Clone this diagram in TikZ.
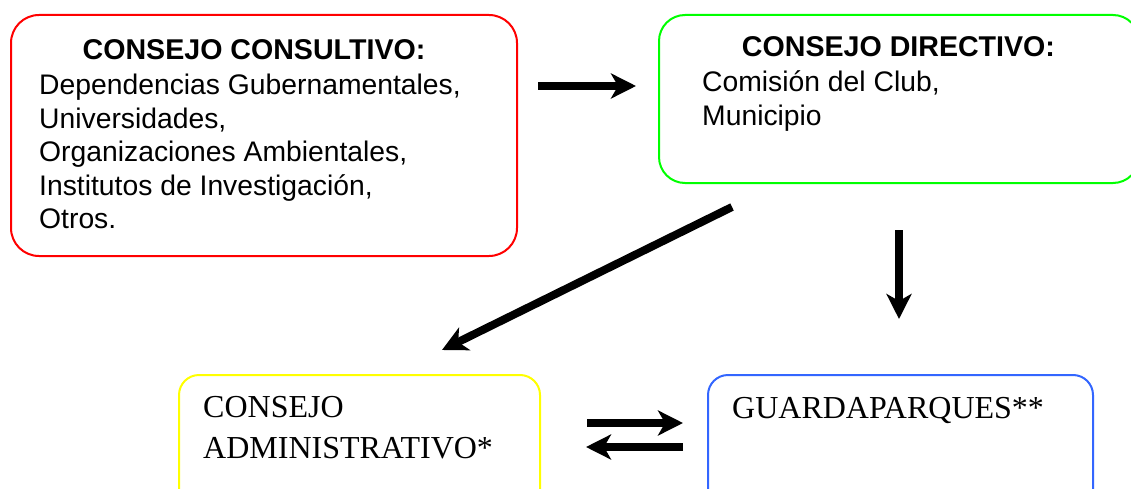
\documentclass[tikz,border=0pt]{standalone}
\usepackage{fontspec}
\setmainfont{Liberation Serif}
\setsansfont{Liberation Sans}
\usetikzlibrary{arrows.meta}
\definecolor{boxred}{RGB}{255,0,0}
\definecolor{boxgreen}{RGB}{0,255,0}
\definecolor{boxyellow}{RGB}{255,255,0}
\definecolor{boxblue}{RGB}{51,102,255}
\begin{document}
\begin{tikzpicture}[x=1pt,y=-1pt,
  box/.style={draw, line width=2pt, inner sep=0pt, anchor=north west},
  ttl/.style={font=\sffamily\bfseries\fontsize{28.6}{33}\selectfont, inner sep=0pt, anchor=base},
  bod/.style={font=\sffamily\fontsize{28.3}{33}\selectfont, inner sep=0pt, anchor=base west},
  ser/.style={font=\rmfamily\fontsize{32}{40}\selectfont, inner sep=0pt, anchor=base west},
  fat/.style={line width=8pt, -{Stealth[length=25pt,width=25pt,inset=7pt]}}]
\useasboundingbox (0,0) rectangle (1131,489);
\clip (0,0) rectangle (1131,489);
% boxes
\node[box, draw=boxred, rounded corners=28pt, minimum width=506pt, minimum height=241pt] (consultivo) at (10,14) {};
\node[box, draw=boxgreen, rounded corners=26pt, minimum width=480pt, minimum height=168pt] (directivo) at (658,14) {};
\node[box, draw=boxyellow, rounded corners=20pt, minimum width=361pt, minimum height=140pt] (administrativo) at (178,374) {};
\node[box, draw=boxblue, rounded corners=20pt, minimum width=385pt, minimum height=140pt] (guarda) at (707,374) {};
% texts
\node[ttl] (t1) at (254,60) {CONSEJO CONSULTIVO:};
\node[bod] (c1) at (39,95) {Dependencias Gubernamentales,};
\node[bod] (c2) at (39,128.3) {Universidades,};
\node[bod] (c3) at (39,161.6) {Organizaciones Ambientales,};
\node[bod] (c4) at (39,195) {Institutos de Investigación,};
\node[bod] (c5) at (39,228.3) {Otros.};
\node[ttl] (t2) at (898.5,57) {CONSEJO DIRECTIVO:};
\node[bod] (d1) at (702,92) {Comisión del Club,};
\node[bod] (d2) at (702,125.3) {Municipio};
\node[ser] (a1) at (203,417) {CONSEJO};
\node[ser] (a2) at (203,458) {ADMINISTRATIVO*};
\node[ser] (g1) at (732,418) {GUARDAPARQUES**};
% arrow ends
\coordinate (p1s) at (538,86);
\coordinate (p1e) at (636,86);
\coordinate (p2s) at (732,207);
\coordinate (p2e) at (442,350);
\coordinate (p3s) at (899,230);
\coordinate (p3e) at (899,319);
\coordinate (p4s) at (587,423);
\coordinate (p4e) at (683,423);
\coordinate (p5s) at (683,447);
\coordinate (p5e) at (586,447);
\draw[fat] (p1s) -- (p1e);
\draw[fat] (p2s) -- (p2e);
\draw[fat] (p3s) -- (p3e);
\draw[fat] (p4s) -- (p4e);
\draw[fat] (p5s) -- (p5e);
\end{tikzpicture}
\end{document}
